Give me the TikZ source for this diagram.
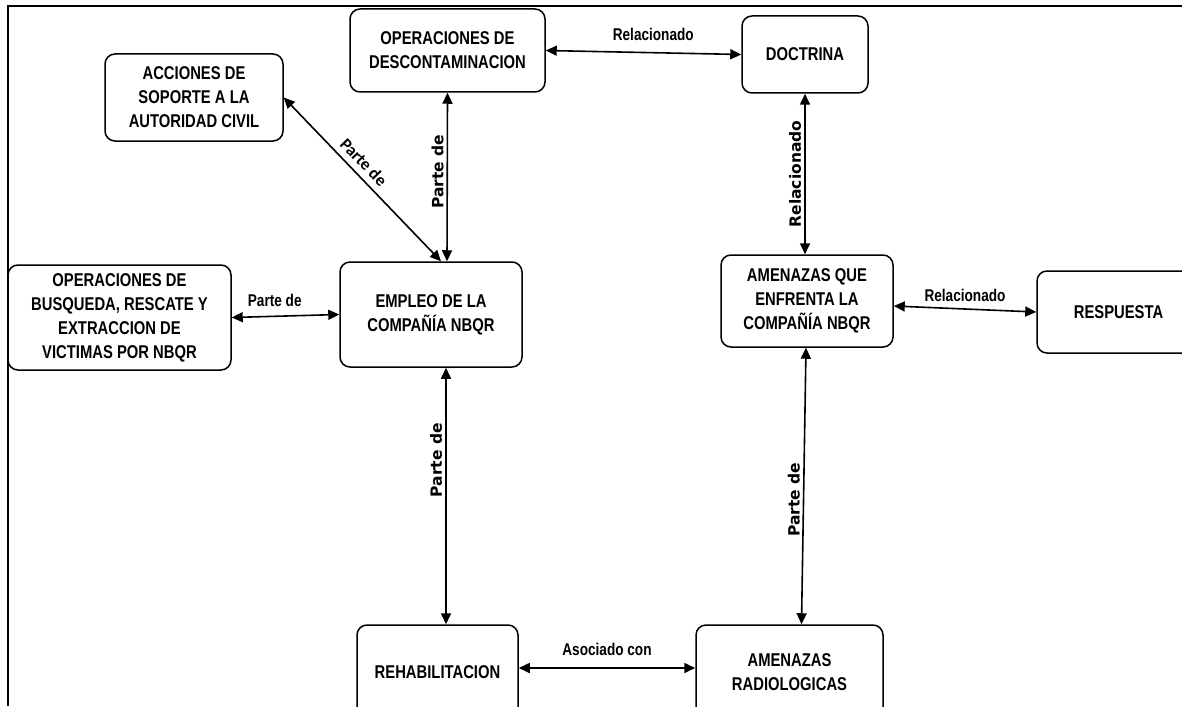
\documentclass[tikz,border=0pt]{standalone}
\usepackage{fontspec}
\setmainfont{Liberation Sans}
\newfontfamily\boxfont[FakeStretch=0.8]{Liberation Sans}
\newfontfamily\vfont{DejaVu Sans}
\newfontfamily\cfont{Carlito}
\usetikzlibrary{arrows.meta}
\tikzset{
  box/.style={draw, line width=1.5pt, rounded corners=10pt, fill=white, align=center,
    font=\boxfont\bfseries\fontsize{18.5}{24}\selectfont, inner sep=2pt},
  bi/.style={line width=1.6pt, {Triangle[length=11pt,width=10pt]}-{Triangle[length=11pt,width=10pt]}},
  hlbl/.style={font=\boxfont\bfseries\fontsize{17}{19}\selectfont, inner sep=2pt},
  vlbl/.style={font=\vfont\bfseries\fontsize{15.5}{18}\selectfont, rotate=90, anchor=south, inner sep=3pt},
  dlbl/.style={font=\cfont\bfseries\fontsize{17}{20}\selectfont, rotate=-46, anchor=south, inner sep=6pt},
  frame/.style={line width=2.5pt}
}
\begin{document}
\begin{tikzpicture}[x=1pt,y=-1pt]
\useasboundingbox (0,0) rectangle (1182,706);
\coordinate (f1) at (1182,6);
\coordinate (f2) at (8,6);
\coordinate (f3) at (8,706);
\draw[frame] (f1) -- (f2) -- (f3);

\node[box, minimum width=178pt, minimum height=87pt] (acc) at (194,97.5) {ACCIONES DE\\SOPORTE A LA\\AUTORIDAD CIVIL};
\node[box, minimum width=195pt, minimum height=83pt] (desc) at (447.5,50.5) {OPERACIONES DE\\DESCONTAMINACION};
\node[box, minimum width=126pt, minimum height=77pt] (doc) at (805,54.5) {DOCTRINA};
\node[box, minimum width=223pt, minimum height=105pt] (busq) at (119.5,317.5) {OPERACIONES DE\\BUSQUEDA, RESCATE Y\\EXTRACCION DE\\VICTIMAS POR NBQR};
\node[box, minimum width=182pt, minimum height=105pt] (emp) at (431,314.5) {EMPLEO DE LA\\COMPAÑÍA NBQR};
\node[box, minimum width=172pt, minimum height=92pt] (amen) at (807,301) {AMENAZAS QUE\\ENFRENTA LA\\COMPAÑÍA NBQR};
\node[box, minimum width=163pt, minimum height=82pt] (resp) at (1118.5,312) {RESPUESTA};
\node[box, minimum width=161pt, minimum height=95pt] (rehab) at (437.5,672.5) {REHABILITACION};
\node[box, minimum width=187pt, minimum height=95pt] (rad) at (789.5,672.5) {AMENAZAS\\RADIOLOGICAS};

\draw[bi] (desc.east) -- node[hlbl, above=9pt, pos=0.55]{Relacionado} (doc.west);
\draw[bi] (acc.east) -- node[dlbl, pos=0.45]{Parte de} ([xshift=10pt]emp.north);
\draw[bi] (desc.south) -- node[vlbl, pos=0.47]{Parte de} ([xshift=16pt]emp.north);
\draw[bi] (busq.east) -- node[hlbl, above=7pt, pos=0.4]{Parte de} (emp.west);
\draw[bi] (doc.south) -- node[vlbl, pos=0.5]{Relacionado} (doc.south |- amen.north);
\draw[bi] ([yshift=-5pt]amen.east) -- node[hlbl, above=5pt]{Relacionado} (resp.west);
\draw[bi] ([xshift=15pt]emp.south) -- node[vlbl, pos=0.36]{Parte de} ([xshift=15pt]emp.south |- rehab.north);
\draw[bi] ([xshift=-1pt]amen.south) -- node[vlbl, pos=0.55]{Parte de} ([xshift=12pt]rad.north);
\draw[bi] ([yshift=4.5pt]rehab.east) -- node[hlbl, above=10pt]{Asociado con} ([yshift=4.5pt]rad.west);
\end{tikzpicture}
\end{document}
